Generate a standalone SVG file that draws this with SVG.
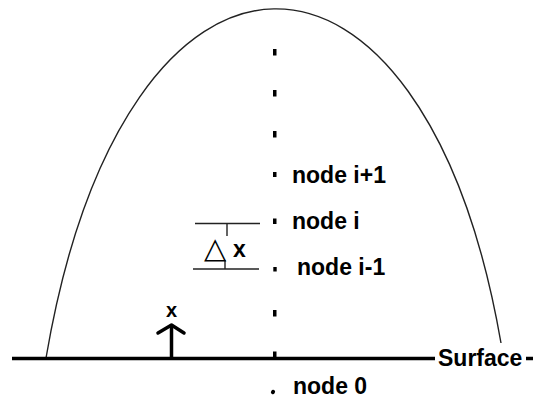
<svg xmlns="http://www.w3.org/2000/svg" width="536" height="407" viewBox="0 0 536 407">
<style>
.lbl{font-family:"Liberation Sans",Arial,sans-serif;font-weight:bold;font-size:23px;fill:#000}
.thin{stroke:#222;stroke-width:1.4;fill:none}
.thick{stroke:#000;stroke-width:3.5;fill:none}
.dot{fill:#000}
</style>
<rect width="536" height="407" fill="#fff"/>
<g id="dome">
<path class="thin" d="M46,358 C125,-105 423,-105 501,343"/>
</g>
<g id="surface">
<line class="thick" x1="12" y1="358.5" x2="435" y2="358.5"/>
<line class="thick" x1="526" y1="358.5" x2="533" y2="358.5"/>
<text class="lbl" x="438" y="366">Surface</text>
</g>
<g id="dots">
<rect class="dot" x="273" y="49" width="3.5" height="6.5"/>
<rect class="dot" x="273" y="90" width="3.5" height="6.5"/>
<rect class="dot" x="273" y="131" width="3.5" height="6.5"/>
<rect class="dot" x="273" y="351.5" width="3.5" height="6"/>
<rect class="dot" x="273" y="310" width="3.5" height="6.5"/>
</g>
<g id="node-i-plus-1">
<rect class="dot" x="273" y="172" width="3.5" height="5"/>
<text class="lbl" x="292" y="183">node i+1</text>
</g>
<g id="node-i">
<rect class="dot" x="273" y="218.5" width="3.5" height="5.5"/>
<text class="lbl" x="292" y="229">node i</text>
</g>
<g id="node-i-minus-1">
<rect class="dot" x="273.3" y="267" width="3.4" height="4.5"/>
<text class="lbl" x="297" y="275">node i-1</text>
</g>
<g id="node-0">
<ellipse class="dot" cx="273" cy="392" rx="2" ry="2.3" transform="rotate(30 273 392)"/>
<text class="lbl" x="293" y="394">node 0</text>
</g>
<g id="delta-x">
<line class="thin" x1="195" y1="223.5" x2="260" y2="223.5"/>
<line class="thin" x1="227" y1="224" x2="227" y2="236"/>
<line class="thin" x1="193" y1="269" x2="259" y2="269"/>
<line class="thin" x1="225" y1="260" x2="225" y2="269"/>
<text x="204" y="258" style="font-family:'DejaVu Sans',sans-serif;font-size:29px;font-weight:bold;fill:#000">△</text>
<text class="lbl" x="233" y="257">x</text>
</g>
<g id="x-arrow">
<line class="thick" x1="171.5" y1="327" x2="171.5" y2="357"/>
<polyline class="thick" points="158,333 171.5,325 184,333" stroke-linejoin="round" stroke-linecap="round"/>
<text class="lbl" x="171.5" y="317" text-anchor="middle" style="font-size:20px">x</text>
</g>
</svg>
